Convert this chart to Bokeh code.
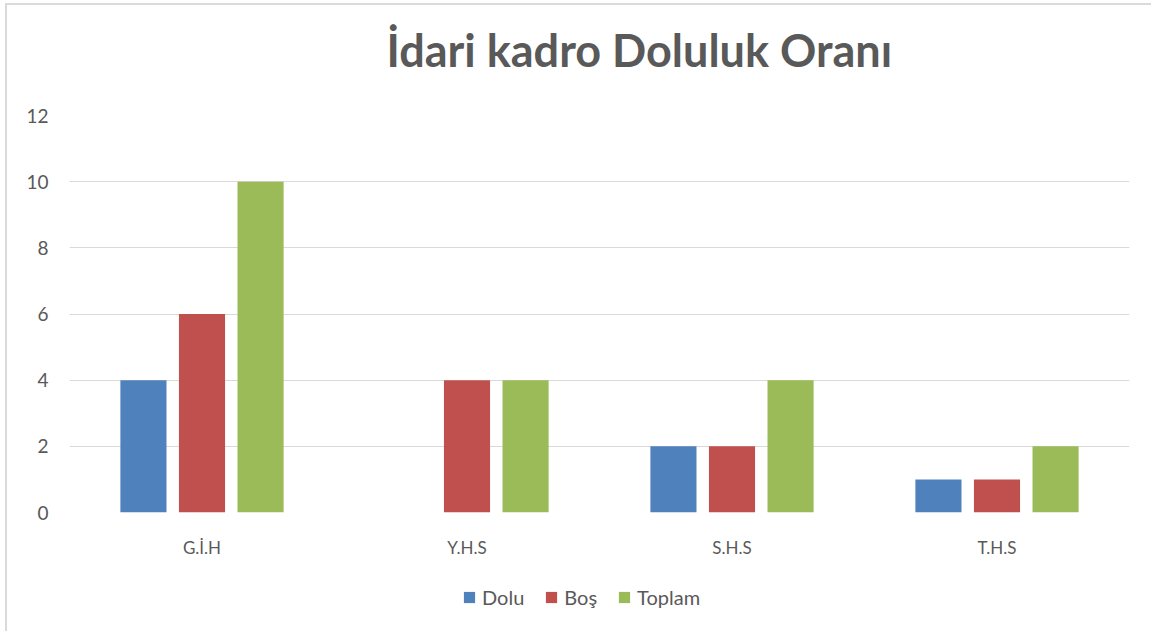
from bokeh.plotting import figure
from bokeh.layouts import column
from bokeh.models import ColumnDataSource, FactorRange, Range1d, FixedTicker, Legend, LegendItem, Label
from bokeh.transform import dodge
from bokeh.embed import file_html
from bokeh.resources import INLINE

title_text = "İdari kadro Doluluk Oranı"
categories = ["G.İ.H", "Y.H.S", "S.H.S", "T.H.S"]
dolu = [4, 0, 2, 1]
bos = [6, 4, 2, 1]
toplam = [10, 4, 4, 2]
series_names = ["Dolu", "Boş", "Toplam"]
colors = ["#4F81BD", "#C0504D", "#9BBB59"]
y_ticks = [0, 2, 4, 6, 8, 10, 12]

FONT = "Lato"
TXT = "#595959"


def strip(h):
    f = figure(width=1151, height=h, output_backend="svg", toolbar_location=None,
               x_range=Range1d(0, 1), y_range=Range1d(0, 1), min_border=0)
    f.axis.visible = False
    f.grid.visible = False
    f.outline_line_color = None
    f.border_fill_color = None
    f.background_fill_color = None
    return f


# title strip
p0 = strip(90)
p0.add_layout(Label(x=317, y=41, x_units="screen", y_units="screen", text=title_text,
                    text_font=FONT, text_font_style="bold", text_font_size="45px",
                    text_color=TXT, text_baseline="alphabetic", text_align="left"))

src = ColumnDataSource(dict(cat=categories, dolu=dolu, bos=bos, toplam=toplam))

p = figure(x_range=FactorRange(factors=categories), y_range=Range1d(0, 12),
           width=1151, height=485, output_backend="svg", toolbar_location=None,
           min_border_left=69, min_border_right=22, min_border_top=25, min_border_bottom=63)

offs = [-0.221, 0.0, 0.221]
fields = ["dolu", "bos", "toplam"]
for f, o, c in zip(fields, offs, colors):
    p.vbar(x=dodge("cat", o, range=p.x_range), top=f, width=0.174, source=src,
           fill_color=c, line_color=None)

p.xgrid.grid_line_color = None
p.ygrid.grid_line_color = "#d9d9d9"
p.ygrid.grid_line_width = 1
p.outline_line_color = None

p.yaxis.ticker = FixedTicker(ticks=y_ticks)
for ax in (p.xaxis, p.yaxis):
    ax.axis_line_color = None
    ax.major_tick_line_color = None
    ax.minor_tick_line_color = None
    ax.major_tick_out = 0
    ax.major_tick_in = 0
    ax.major_label_text_font = FONT
    ax.major_label_text_color = TXT
p.yaxis.major_label_text_font_size = "19px"
p.yaxis.major_label_standoff = 21
p.xaxis.major_label_text_font_size = "17px"
p.xaxis.major_label_standoff = 24
p.border_fill_color = None

# legend strip (key swatches: zero-height bars, nothing visible in the strip)
p2 = strip(56)
keys = []
for c in colors:
    keys.append(p2.vbar(x=[0.5], top=[0], bottom=[0], width=0.01, fill_color=c, line_color=None))

legend = Legend(items=[LegendItem(label=n, renderers=[r]) for n, r in zip(series_names, keys)],
                orientation="horizontal", location=(393, 22),
                label_text_font=FONT, label_text_font_size="20px", label_text_color=TXT,
                glyph_width=14, glyph_height=14, label_standoff=6, spacing=20,
                padding=0, margin=0, border_line_color=None, background_fill_alpha=0)
p2.add_layout(legend, "center")

lay = column(p0, p, p2, spacing=0)
lay.styles = {"background": "linear-gradient(#dadada,#dadada) 5px 3px / 2px 100% no-repeat, "
                            "linear-gradient(#dadada,#dadada) 5px 3px / 100% 2px no-repeat, #ffffff"}

open("out.html", "w").write(file_html(lay, INLINE))
